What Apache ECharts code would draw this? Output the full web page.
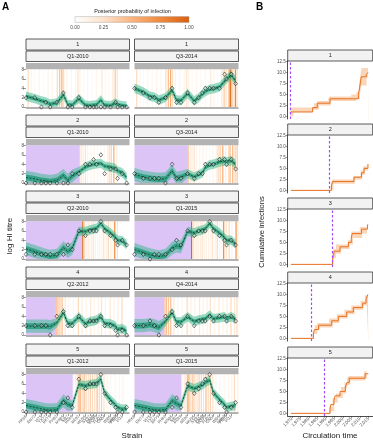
<!DOCTYPE html>
<html>
<head>
<meta charset="utf-8">
<script src="https://cdn.jsdelivr.net/npm/echarts@6/dist/echarts.min.js"></script>
<style>
  html, body { margin: 0; padding: 0; background: #fff; }
  #fig { width: 373px; height: 440px; }
</style>
</head>
<body>
<div id="fig"></div>
<script>
// ---------- data ----------
// strains, placed at their circulation year
var strainYears = [1968, 1972, 1975, 1977, 1979, 1982, 1985, 1987, 1989, 1992, 1995, 1997, 1998.7, 2000, 2002, 2003.7, 2006.4, 2008.7, 2009.6, 2011.7, 2013.7];
var strainNames = ['HK68', 'EN72', 'VI75', 'TX77', 'BK79', 'PH82', 'MS85', 'SI87', 'BE89', 'BE92', 'WU95', 'SY97', 'PA99', 'MO99', 'FU02', 'CA04', 'WI05', 'BR07', 'PE09', 'VI11', 'TX12'];

var yTicksA = [0, 2, 4, 6, 8];
var yTicksB = [0, 2.5, 5, 7.5, 10, 12.5];
var yearTicksB = [1970, 1975, 1980, 1985, 1990, 1995, 2000, 2005, 2010, 2015];
var legendTicks = [0, 0.25, 0.5, 0.75, 1];

var sampleLabels = ['Q1-2010', 'Q3-2014', 'Q1-2010', 'Q3-2014', 'Q2-2010', 'Q1-2015', 'Q2-2012', 'Q4-2014', 'Q1-2012', 'Q1-2015'];
var birthYears = [1969.0, 1992.3, 1993.7, 1981.6, 1989.3];

// observed titres
var titre_1a = [2,2,0,1,0,1,3,0,0,2,0,0,0,0,0,0,0,1,0,0,0];
var titre_1b = [4,3,2,2,1,2,4,1,1,3,1,2,3,4,4,4,4,7,6,7,5];
var titre_2a = [0,0,0,0,0,0,0,0,2,2,4,4,5,4,6,2,3,3,1,2,0];
var titre_2b = [2,1,1,1,1,0,4,1,1,2,1,2,2,4,4,4,5,5,4,5,3];
var titre_3a = [1,1,1,1,1,1,1,3,2,6,5,6,6,6,8,6,5,4,3,4,3];
var titre_3b = [1,1,0,1,1,1,2,4,3,6,5,6,6,6,8,6,5,4,3,4,3];
var titre_4a = [2,2,2,2,0,4,5,2,2,4,2,3,3,3,4,2,2,1,0,1,0];
var titre_4b = [2,2,3,2,0,4,5,2,2,4,2,3,3,3,4,3,4,4,3,4,3];
var titre_5a = [0,0,0,0,0,0,2,3,1,7,5,6,6,6,8,4,2,1,0,0,1];
var titre_5b = [0,0,0,0,0,0,1,3,1,6,4,5,6,7,8,4,2,1,0,1,2];

// model fit: median, 95% and 50% bands
var mean_1a = [2.3,1.8,1.3,1.1,0.6,0.9,2.6,0.5,0.4,1.8,0.4,0.3,0.4,0.5,1.5,0.4,0.3,0.9,0.5,0.3,0.2];
var hi95_1a = [3.3,2.8,2.3,2.1,1.6,1.9,3.6,1.5,1.4,2.8,1.4,1.3,1.4,1.5,2.5,1.4,1.3,1.9,1.5,1.3,1.2];
var lo95_1a = [1.3,0.8,0.3,0.1,-0.2,-0.1,1.6,-0.2,-0.2,0.8,-0.2,-0.2,-0.2,-0.2,0.5,-0.2,-0.2,-0.1,-0.2,-0.2,-0.2];
var hi50_1a = [2.7,2.2,1.7,1.5,1.0,1.3,3.0,0.9,0.8,2.2,0.8,0.7,0.8,0.9,1.9,0.8,0.7,1.3,0.9,0.7,0.6];
var lo50_1a = [1.9,1.4,0.9,0.7,0.2,0.5,2.2,0.1,0.0,1.4,0.0,-0.1,0.0,0.1,1.1,0.0,-0.1,0.5,0.1,-0.1,-0.2];

var mean_1b = [4.0,3.2,2.3,2.1,1.5,2.0,3.6,1.5,1.4,2.9,1.3,2.0,2.8,3.3,3.8,3.9,4.3,5.5,6.0,6.8,5.6];
var hi95_1b = [5.0,4.2,3.3,3.1,2.5,3.0,4.6,2.5,2.4,3.9,2.3,3.0,3.8,4.3,4.8,4.9,5.3,6.5,7.0,7.8,6.6];
var lo95_1b = [3.0,2.2,1.3,1.1,0.5,1.0,2.6,0.5,0.4,1.9,0.3,1.0,1.8,2.3,2.8,2.9,3.3,4.5,5.0,5.8,4.6];
var hi50_1b = [4.4,3.6,2.7,2.5,1.9,2.4,4.0,1.9,1.8,3.3,1.7,2.4,3.2,3.7,4.2,4.3,4.7,5.9,6.4,7.2,6.0];
var lo50_1b = [3.6,2.8,1.9,1.7,1.1,1.6,3.2,1.1,1.0,2.5,0.9,1.6,2.4,2.9,3.4,3.5,3.9,5.1,5.6,6.4,5.2];

var mean_2a = [1.2,0.9,0.6,0.5,0.3,0.6,1.6,0.6,1.5,2.4,3.4,3.8,4.0,4.1,4.2,3.6,3.4,3.1,2.6,2.2,1.2];
var hi95_2a = [2.6,2.3,2.0,1.9,1.7,2.0,3.0,2.0,2.9,3.4,4.4,4.8,5.0,5.1,5.2,4.6,4.4,4.1,3.6,3.2,2.2];
var lo95_2a = [-0.2,-0.2,-0.2,-0.2,-0.2,-0.2,0.2,-0.2,0.1,1.4,2.4,2.8,3.0,3.1,3.2,2.6,2.4,2.1,1.6,1.2,0.2];
var hi50_2a = [1.8,1.5,1.2,1.1,0.9,1.2,2.2,1.2,2.1,2.8,3.8,4.2,4.4,4.5,4.6,4.0,3.8,3.5,3.0,2.6,1.6];
var lo50_2a = [0.6,0.3,0.0,-0.1,-0.2,0.0,1.0,0.0,0.9,2.0,3.0,3.4,3.6,3.7,3.8,3.2,3.0,2.7,2.2,1.8,0.8];

var mean_2b = [1.8,1.3,1.0,0.9,0.8,0.9,2.6,1.0,1.2,2.0,1.3,1.8,2.2,3.3,3.9,4.0,4.5,4.7,4.5,4.8,4.0];
var hi95_2b = [3.2,2.7,2.4,2.3,2.2,2.3,4.0,2.4,2.6,3.0,2.3,2.8,3.2,4.3,4.9,5.0,5.5,5.7,5.5,5.8,5.0];
var lo95_2b = [0.4,-0.1,-0.2,-0.2,-0.2,-0.2,1.2,-0.2,-0.2,1.0,0.3,0.8,1.2,2.3,2.9,3.0,3.5,3.7,3.5,3.8,3.0];
var hi50_2b = [2.4,1.9,1.6,1.5,1.4,1.5,3.2,1.6,1.8,2.4,1.7,2.2,2.6,3.7,4.3,4.4,4.9,5.1,4.9,5.2,4.4];
var lo50_2b = [1.2,0.7,0.4,0.3,0.2,0.3,2.0,0.4,0.6,1.6,0.9,1.4,1.8,2.9,3.5,3.6,4.1,4.3,4.1,4.4,3.6];

var mean_3a = [2.2,1.6,1.1,0.8,0.6,0.8,2.4,1.6,2.3,5.9,5.9,6.2,6.4,6.6,7.6,6.5,5.6,4.6,4.0,3.9,3.1];
var hi95_3a = [3.6,3.0,2.5,2.2,2.0,2.2,3.8,3.0,3.7,6.9,6.9,7.2,7.4,7.6,8.6,7.5,6.6,5.6,5.0,4.9,4.1];
var lo95_3a = [0.8,0.2,-0.2,-0.2,-0.2,-0.2,1.0,0.2,0.9,4.9,4.9,5.2,5.4,5.6,6.6,5.5,4.6,3.6,3.0,2.9,2.1];
var hi50_3a = [2.8,2.2,1.7,1.4,1.2,1.4,3.0,2.2,2.9,6.3,6.3,6.6,6.8,7.0,8.0,6.9,6.0,5.0,4.4,4.3,3.5];
var lo50_3a = [1.6,1.0,0.5,0.2,0.0,0.2,1.8,1.0,1.7,5.5,5.5,5.8,6.0,6.2,7.2,6.1,5.2,4.2,3.6,3.5,2.7];

var mean_3b = [2.0,1.4,0.9,0.7,0.5,0.8,2.3,2.8,2.6,5.9,5.6,6.0,6.2,6.5,7.6,6.5,5.6,4.6,4.0,4.0,3.2];
var hi95_3b = [3.4,2.8,2.3,2.1,1.9,2.2,3.7,4.2,4.0,6.9,6.6,7.0,7.2,7.5,8.6,7.5,6.6,5.6,5.0,5.0,4.2];
var lo95_3b = [0.6,0.0,-0.2,-0.2,-0.2,-0.2,0.9,1.4,1.2,4.9,4.6,5.0,5.2,5.5,6.6,5.5,4.6,3.6,3.0,3.0,2.2];
var hi50_3b = [2.6,2.0,1.5,1.3,1.1,1.4,2.9,3.4,3.2,6.3,6.0,6.4,6.6,6.9,8.0,6.9,6.0,5.0,4.4,4.4,3.6];
var lo50_3b = [1.4,0.8,0.3,0.1,-0.1,0.2,1.7,2.2,2.0,5.5,5.2,5.6,5.8,6.1,7.2,6.1,5.2,4.2,3.6,3.6,2.8];

var mean_4a = [1.9,1.9,1.9,1.9,1.8,2.6,4.8,2.5,2.5,3.9,2.4,2.9,3.0,3.2,3.9,2.5,2.4,1.9,1.2,1.4,0.8];
var hi95_4a = [3.3,3.3,3.3,3.3,3.2,3.6,5.8,3.5,3.5,4.9,3.4,3.9,4.0,4.2,4.9,3.5,3.4,2.9,2.2,2.4,1.8];
var lo95_4a = [0.5,0.5,0.5,0.5,0.4,1.6,3.8,1.5,1.5,2.9,1.4,1.9,2.0,2.2,2.9,1.5,1.4,0.9,0.2,0.4,-0.2];
var hi50_4a = [2.5,2.5,2.5,2.5,2.4,3.0,5.2,2.9,2.9,4.3,2.8,3.3,3.4,3.6,4.3,2.9,2.8,2.3,1.6,1.8,1.2];
var lo50_4a = [1.3,1.3,1.3,1.3,1.2,2.2,4.4,2.1,2.1,3.5,2.0,2.5,2.6,2.8,3.5,2.1,2.0,1.5,0.8,1.0,0.4];

var mean_4b = [2.0,2.0,2.2,2.0,1.6,2.9,4.8,2.8,2.8,3.9,2.9,3.2,3.4,3.5,4.3,3.5,3.7,3.9,3.5,3.9,3.4];
var hi95_4b = [3.4,3.4,3.6,3.4,3.0,3.9,5.8,3.8,3.8,4.9,3.9,4.2,4.4,4.5,5.3,4.5,4.7,4.9,4.5,4.9,4.4];
var lo95_4b = [0.6,0.6,0.8,0.6,0.2,1.9,3.8,1.8,1.8,2.9,1.9,2.2,2.4,2.5,3.3,2.5,2.7,2.9,2.5,2.9,2.4];
var hi50_4b = [2.6,2.6,2.8,2.6,2.2,3.3,5.2,3.2,3.2,4.3,3.3,3.6,3.8,3.9,4.7,3.9,4.1,4.3,3.9,4.3,3.8];
var lo50_4b = [1.4,1.4,1.6,1.4,1.0,2.5,4.4,2.4,2.4,3.5,2.5,2.8,3.0,3.1,3.9,3.1,3.3,3.5,3.1,3.5,3.0];

var mean_5a = [1.4,1.0,0.7,0.5,0.4,0.5,2.4,1.6,1.4,5.9,5.6,5.9,6.0,6.1,7.0,4.1,2.6,1.5,1.0,0.6,0.7];
var hi95_5a = [2.8,2.4,2.1,1.9,1.8,1.9,3.8,3.0,2.4,6.9,6.6,6.9,7.0,7.1,8.0,5.1,3.6,2.5,2.0,1.6,1.7];
var lo95_5a = [0.0,-0.2,-0.2,-0.2,-0.2,-0.2,1.0,0.2,0.4,4.9,4.6,4.9,5.0,5.1,6.0,3.1,1.6,0.5,0.0,-0.2,-0.2];
var hi50_5a = [2.0,1.6,1.3,1.1,1.0,1.1,3.0,2.2,1.8,6.3,6.0,6.3,6.4,6.5,7.4,4.5,3.0,1.9,1.4,1.0,1.1];
var lo50_5a = [0.8,0.4,0.1,-0.1,-0.2,-0.1,1.8,1.0,1.0,5.5,5.2,5.5,5.6,5.7,6.6,3.7,2.2,1.1,0.6,0.2,0.3];

var mean_5b = [1.4,1.0,0.7,0.5,0.4,0.5,2.4,1.8,1.4,5.6,5.0,5.4,5.8,6.3,6.8,4.1,2.7,1.6,1.0,1.2,1.4];
var hi95_5b = [2.8,2.4,2.1,1.9,1.8,1.9,3.8,3.2,2.4,6.6,6.0,6.4,6.8,7.3,7.8,5.1,3.7,2.6,2.0,2.2,2.4];
var lo95_5b = [0.0,-0.2,-0.2,-0.2,-0.2,-0.2,1.0,0.4,0.4,4.6,4.0,4.4,4.8,5.3,5.8,3.1,1.7,0.6,0.0,0.2,0.4];
var hi50_5b = [2.0,1.6,1.3,1.1,1.0,1.1,3.0,2.4,1.8,6.0,5.4,5.8,6.2,6.7,7.2,4.5,3.1,2.0,1.4,1.6,1.8];
var lo50_5b = [0.8,0.4,0.1,-0.1,-0.2,-0.1,1.8,1.2,1.0,5.2,4.6,5.0,5.4,5.9,6.4,3.7,2.3,1.2,0.6,0.8,1.0];

// posterior probability of infection, [time, probability], one list per individual
var infect_1 = [[1968.1,1.0],[1969,0.3],[1970.5,0.08],[1972,0.06],[1974,0.08],[1976,0.06],[1978,0.1],[1980,0.08],[1982.2,0.3],[1983.3,0.45],[1984.3,0.55],[1985.1,0.3],[1986.5,0.1],[1988.5,0.08],[1990.5,0.1],[1991.6,0.25],[1992.5,0.12],[1994,0.06],[1996,0.08],[1998,0.06],[2000,0.08],[2002.5,0.2],[2004,0.08],[2005.5,0.06],[2007.5,0.2],[2008.5,0.4],[2009.4,0.25],[2010.5,0.35],[2011.1,0.7],[2011.5,0.95],[2012.1,0.4],[2012.8,0.2],[2013.6,0.75],[2014.3,0.3]];
var infect_2 = [[1992.4,0.35],[1993.2,0.15],[1994,0.15],[1995,0.25],[1996,0.1],[1997.5,0.08],[1999,0.1],[2000.5,0.08],[2002,0.06],[2003.5,0.08],[2005,0.12],[2005.8,0.3],[2006.7,0.35],[2007.9,0.55],[2009.2,0.15],[2010.6,0.3],[2011.2,0.45],[2012.4,0.5],[2013.5,0.35],[2014.4,0.4]];
var infect_3 = [[1993.8,0.95],[1994.5,0.3],[1995.3,0.15],[1996.2,0.2],[1997,0.12],[1997.8,0.15],[1998.6,0.25],[1999.5,0.12],[2000.5,0.12],[2001.5,0.12],[2002.5,0.1],[2003.3,0.25],[2004.5,0.12],[2005.4,0.3],[2006.5,0.12],[2007.5,0.1],[2008.3,0.75],[2009.5,0.25],[2010.8,0.3],[2012,0.12],[2013.9,0.7],[2014.7,0.2]];
var infect_4 = [[1981.8,0.4],[1982.5,0.45],[1983.4,0.4],[1984.4,0.45],[1985.8,0.2],[1987.5,0.08],[1989.5,0.08],[1991.8,0.3],[1993.5,0.15],[1995.3,0.1],[1997.4,0.2],[1999,0.1],[2000.8,0.12],[2002.3,0.25],[2004,0.1],[2006.2,0.2],[2008,0.1],[2009.8,0.15],[2011.6,0.3],[2013.2,0.2],[2014.3,0.3]];
var infect_5 = [[1989.5,0.1],[1990.5,0.15],[1991.3,0.25],[1992,0.45],[1992.6,0.55],[1993.5,0.3],[1994.4,0.45],[1995.3,0.3],[1996.3,0.25],[1997.2,0.35],[1998.2,0.3],[1999.2,0.25],[2000.3,0.45],[2001.3,0.3],[2002.3,0.35],[2003.4,0.25],[2004.8,0.1],[2006.5,0.08],[2008.5,0.08],[2010.5,0.08],[2012,0.1],[2013.2,0.3],[2014.6,0.12]];

// cumulative infections (median and 95% band), [time, count]
var cum_1 = [[1969.3,1],[1982.3,2],[1985,3],[1992.5,4],[2009.2,5],[2010.1,7],[2010.9,9],[2013.8,9.5],[2014.8,10],[2015,10]];
var cumLo_1 = [[1969.3,0],[1971,1],[1982.5,1.5],[1986,2.5],[1993,3.5],[2008,4],[2010,5],[2011,7],[2014,8.5],[2014.8,9],[2015,9]];
var cumHi_1 = [[1969.3,2],[1981,2],[1983,3],[1985,3.5],[1991.5,4],[1992,4.5],[2005,5],[2008,5.5],[2009.5,7],[2010.2,9],[2011,11],[2014.8,12],[2015,12]];
var cum_2 = [[1969.5,0],[1993.3,1],[1994,2],[2006.6,3],[2011,4],[2012.5,5],[2014.8,6],[2015,6]];
var cumLo_2 = [[1969.5,0],[1994.5,1.5],[2007,2.5],[2011.5,3.5],[2013,4.5],[2014.8,5.5],[2015,5.5]];
var cumHi_2 = [[1969.5,0],[1993,1],[1993.6,2.5],[2006,3.2],[2010.5,4.5],[2012,5.5],[2014.5,6.5],[2015,6.5]];
var cum_3 = [[1969.5,0],[1994,1],[1994.5,2],[1995,3],[1998.4,4],[2003.3,5],[2005,6],[2005.5,7],[2011,8],[2014.5,9],[2015,9]];
var cumLo_3 = [[1969.5,0],[1994.5,1.5],[1996,2.5],[1999,3.5],[2004,4.5],[2006,6],[2011.5,7],[2014.5,8],[2015,8]];
var cumHi_3 = [[1969.5,0],[1993.8,2],[1994.5,3.5],[1996,4.5],[2003,5.5],[2005,7.5],[2010,8.5],[2014,9.5],[2015,9.5]];
var cum_4 = [[1969.5,0],[1982.7,1],[1983.3,2],[1985.8,3],[1993.5,4],[1997.4,5],[2002.3,6],[2006.2,7],[2011.7,8],[2013.7,9],[2014.8,10],[2015,10]];
var cumLo_4 = [[1969.5,0],[1983,1],[1985,2],[1986.5,2.5],[1994,3.5],[1998,4.5],[2003,5.5],[2007,6.5],[2012,7.5],[2014,8.5],[2015,8.5]];
var cumHi_4 = [[1969.5,0],[1982.3,1.5],[1983.5,3],[1985,3.5],[1992,4.5],[1996.5,5.5],[2001,6.5],[2005,7.5],[2010.5,8.5],[2013,9.8],[2014.8,11],[2015,11]];
var cum_5 = [[1969.5,0],[1992.5,1],[1993,2],[1994.8,3],[1995.5,4],[1998.4,5],[2001.5,6],[2002.5,7],[2003.8,8],[2013.1,9],[2015,9]];
var cumLo_5 = [[1969.5,0],[1993,0.5],[1995,2.5],[1997,3.5],[2000,4.5],[2002,5.5],[2003,6.5],[2004.5,7.5],[2013.5,8],[2015,8]];
var cumHi_5 = [[1969.5,0],[1992,1.5],[1994,3.5],[1996,4.5],[1999,6],[2001,7],[2002.5,8],[2003.5,8.5],[2012.5,9.5],[2014,10],[2015,10]];

// ---------- layout & style ----------
var FONT = 'Liberation Sans, Arial, sans-serif';
var colX = [26, 134.5];
var colW = [103.5, 104];
var rowT = [39, 115, 191, 267, 344];
var bX = 287.7, bW = 85;
var bT = [50, 124, 198, 272, 347];
var probColors = ['#ffffff', '#fde3cb', '#fbb47f', '#f08a3e', '#d9600f'];

var panelsA = [
  { row: 0, col: 0, titre: titre_1a, mean: mean_1a, lo95: lo95_1a, hi95: hi95_1a, lo50: lo50_1a, hi50: hi50_1a },
  { row: 0, col: 1, titre: titre_1b, mean: mean_1b, lo95: lo95_1b, hi95: hi95_1b, lo50: lo50_1b, hi50: hi50_1b },
  { row: 1, col: 0, titre: titre_2a, mean: mean_2a, lo95: lo95_2a, hi95: hi95_2a, lo50: lo50_2a, hi50: hi50_2a },
  { row: 1, col: 1, titre: titre_2b, mean: mean_2b, lo95: lo95_2b, hi95: hi95_2b, lo50: lo50_2b, hi50: hi50_2b },
  { row: 2, col: 0, titre: titre_3a, mean: mean_3a, lo95: lo95_3a, hi95: hi95_3a, lo50: lo50_3a, hi50: hi50_3a },
  { row: 2, col: 1, titre: titre_3b, mean: mean_3b, lo95: lo95_3b, hi95: hi95_3b, lo50: lo50_3b, hi50: hi50_3b },
  { row: 3, col: 0, titre: titre_4a, mean: mean_4a, lo95: lo95_4a, hi95: hi95_4a, lo50: lo50_4a, hi50: hi50_4a },
  { row: 3, col: 1, titre: titre_4b, mean: mean_4b, lo95: lo95_4b, hi95: hi95_4b, lo50: lo50_4b, hi50: hi50_4b },
  { row: 4, col: 0, titre: titre_5a, mean: mean_5a, lo95: lo95_5a, hi95: hi95_5a, lo50: lo50_5a, hi50: hi50_5a },
  { row: 4, col: 1, titre: titre_5b, mean: mean_5b, lo95: lo95_5b, hi95: hi95_5b, lo50: lo50_5b, hi50: hi50_5b }
];
var infections = [infect_1, infect_2, infect_3, infect_4, infect_5];
var cumMed = [cum_1, cum_2, cum_3, cum_4, cum_5];
var cumLo = [cumLo_1, cumLo_2, cumLo_3, cumLo_4, cumLo_5];
var cumHi = [cumHi_1, cumHi_2, cumHi_3, cumHi_4, cumHi_5];

// end of the sampling quarter, e.g. 'Q1-2010' -> 2010.25
function sampleTime(lbl) {
  return +lbl.slice(3) + (+lbl.charAt(1)) / 4;
}

function stripBox(x, y, w, h, label) {
  return {
    type: 'group', children: [
      { type: 'rect', shape: { x: x, y: y, width: w, height: h }, style: { fill: '#f2f2f2', stroke: '#333', lineWidth: 0.8 } },
      { type: 'text', x: x + w / 2, y: y + h / 2 + 0.3, style: { text: label, fill: '#1a1a1a', font: '5.5px ' + FONT, align: 'center', verticalAlign: 'middle', textAlign: 'center', textVerticalAlign: 'middle' } }
    ]
  };
}

function txt(x, y, s, size, opts) {
  var o = { type: 'text', x: x, y: y, style: { text: s, fill: '#1a1a1a', font: size + 'px ' + FONT, align: 'center', verticalAlign: 'middle', textAlign: 'center', textVerticalAlign: 'middle' } };
  if (opts) { for (var k in opts) { if (k === 'style') { for (var j in opts.style) o.style[j] = opts.style[j]; } else o[k] = opts[k]; } }
  return o;
}

function pairs(ys) {
  return strainYears.map(function (x, j) { return [x, ys[j]]; });
}

// a ribbon between lo and hi, drawn as one polygon through the axis scales
function bandSeries(i, lo, hi, color) {
  return {
    type: 'custom', xAxisIndex: i, yAxisIndex: i, silent: true, clip: true, z: 2,
    data: [[strainYears[0], lo[0]]], encode: { x: 0, y: 1 },
    renderItem: function (params, api) {
      var pts = [], j;
      for (j = 0; j < strainYears.length; j++) pts.push(api.coord([strainYears[j], hi[j]]));
      for (j = strainYears.length - 1; j >= 0; j--) pts.push(api.coord([strainYears[j], lo[j]]));
      return { type: 'polygon', shape: { points: pts }, style: { fill: color } };
    }
  };
}

var grids = [], xAxes = [], yAxes = [], series = [], graphics = [], orangeIdx = [];

// ---------- panel A ----------
panelsA.forEach(function (p, i) {
  var top = rowT[p.row], c = p.col, bottomRow = p.row === 4;
  var birth = birthYears[p.row];
  var cutoff = sampleTime(sampleLabels[i]);

  grids.push({ left: colX[c], top: top + 30.3, width: colW[c], height: 39.7, outerBoundsMode: 'none' });
  xAxes.push({
    gridIndex: i, type: 'value', min: 1968, max: 2015,
    axisLine: { show: false, onZero: false }, splitLine: { show: false },
    axisTick: { show: bottomRow, customValues: strainYears, length: 2, lineStyle: { color: '#333', width: 0.5 } },
    axisLabel: {
      show: bottomRow, customValues: strainYears, rotate: 45, fontSize: 4, color: '#4d4d4d', margin: 2, fontFamily: FONT,
      formatter: function (v) { var k = strainYears.indexOf(v); return k < 0 ? '' : strainNames[k]; }
    }
  });
  yAxes.push({
    gridIndex: i, type: 'value', min: -0.42, max: 8.05,
    axisLine: { show: false, onZero: false }, splitLine: { show: false },
    axisTick: { show: c === 0, customValues: yTicksA, length: 2.5, lineStyle: { color: '#333', width: 0.5 } },
    axisLabel: { show: c === 0, customValues: yTicksA, fontSize: 4.5, color: '#4d4d4d', margin: 2, fontFamily: FONT }
  });

  // infection probability stripes (after birth, up to the sample)
  orangeIdx.push(series.length);
  series.push({
    type: 'custom', xAxisIndex: i, yAxisIndex: i, silent: true, z: 1,
    data: infections[p.row].filter(function (d) { return d[0] >= birth && d[0] <= cutoff; }),
    encode: { x: 0, y: 1 },
    renderItem: function (params, api) {
      var cs = params.coordSys;
      var px = api.coord([api.value(0), 0])[0];
      return { type: 'rect', shape: { x: px - 0.6, y: cs.y, width: 1.2, height: cs.height }, style: { fill: api.visual('color') } };
    },
    markArea: birth > 1970 ? {
      silent: true, itemStyle: { color: '#ddc4f6' },
      data: [[{ xAxis: 1968 }, { xAxis: birth }]]
    } : undefined
  });

  series.push(bandSeries(i, p.lo95, p.hi95, 'rgba(51,184,140,0.5)'));
  series.push(bandSeries(i, p.lo50, p.hi50, 'rgba(16,150,108,0.7)'));
  series.push({
    type: 'line', xAxisIndex: i, yAxisIndex: i, silent: true, symbol: 'none', z: 3,
    lineStyle: { color: '#1a1a1a', width: 0.7, type: [2, 1.5] }, data: pairs(p.mean)
  });
  series.push({
    type: 'scatter', xAxisIndex: i, yAxisIndex: i, silent: true, z: 20,
    symbol: 'diamond', symbolSize: [3.6, 4.4],
    itemStyle: { color: 'rgba(255,255,255,0.4)', borderColor: '#111', borderWidth: 0.7 },
    data: pairs(p.titre)
  });

  // facet strips and grey bands
  graphics.push(stripBox(colX[c], top, colW[c], 11, String(p.row + 1)));
  graphics.push(stripBox(colX[c], top + 12, colW[c], 10.5, sampleLabels[i]));
  graphics.push({ type: 'rect', z: 10, shape: { x: colX[c], y: top + 24, width: colW[c], height: 6.3 }, style: { fill: '#b3b3b3' } });
  graphics.push({ type: 'rect', z: 10, shape: { x: colX[c], y: top + 68, width: colW[c], height: 2 }, style: { fill: '#b3b3b3' } });
});

// ---------- panel B ----------
bT.forEach(function (t, k) {
  var gi = panelsA.length + k, last = k === bT.length - 1;
  grids.push({ left: bX, top: t + 11, width: bW, height: 58, outerBoundsMode: 'none' });
  xAxes.push({
    gridIndex: gi, type: 'value', min: 1967.6, max: 2017.6, splitLine: { show: false },
    axisLine: { show: last, onZero: false, lineStyle: { color: '#000', width: 0.7 } },
    axisTick: { show: last, customValues: yearTicksB, length: 2, lineStyle: { color: '#333', width: 0.5 } },
    axisLabel: { show: last, customValues: yearTicksB, rotate: 45, fontSize: 4.5, color: '#4d4d4d', margin: 2, fontFamily: FONT }
  });
  yAxes.push({
    gridIndex: gi, type: 'value', min: -0.6, max: 12.6, splitLine: { show: false },
    axisLine: { show: true, onZero: false, lineStyle: { color: '#000', width: 0.7 } },
    axisTick: { show: true, customValues: yTicksB, length: 2, lineStyle: { color: '#333', width: 0.5 } },
    axisLabel: { show: true, customValues: yTicksB, fontSize: 4.5, color: '#4d4d4d', margin: 2, fontFamily: FONT, formatter: function (v) { return v.toFixed(1); } }
  });
  series.push({
    type: 'line', xAxisIndex: gi, yAxisIndex: gi, silent: true, symbol: 'none', step: 'end',
    lineStyle: { width: 0 }, areaStyle: { color: '#f9d6b9', origin: 'start', opacity: 1 }, data: cumHi[k]
  });
  series.push({
    type: 'line', xAxisIndex: gi, yAxisIndex: gi, silent: true, symbol: 'none', step: 'end',
    lineStyle: { width: 0 }, areaStyle: { color: '#ffffff', origin: 'start', opacity: 1 }, data: cumLo[k]
  });
  series.push({
    type: 'line', xAxisIndex: gi, yAxisIndex: gi, silent: true, symbol: 'none', step: 'end',
    lineStyle: { color: '#e8701f', width: 1 }, data: cumMed[k],
    markLine: {
      silent: true, symbol: 'none', label: { show: false },
      lineStyle: { color: '#a54cf5', type: [2.5, 2], width: 1.2 },
      data: [{ xAxis: birthYears[k] }]
    }
  });
  graphics.push(stripBox(bX, t, bW, 11, String(k + 1)));
});

// ---------- legend, labels ----------
var legX = 75, legW = 114;
graphics.push(txt(2, 7, 'A', 10, { style: { align: 'left', textAlign: 'left', font: 'bold 10px ' + FONT, fill: '#000' } }));
graphics.push(txt(256, 7, 'B', 10, { style: { align: 'left', textAlign: 'left', font: 'bold 10px ' + FONT, fill: '#000' } }));
graphics.push(txt(132.5, 11, 'Posterior probability of infection', 5.5));
graphics.push({
  type: 'rect', shape: { x: legX, y: 16.6, width: legW, height: 5.8 },
  style: {
    fill: new echarts.graphic.LinearGradient(0, 0, 1, 0, probColors.map(function (col, j) { return { offset: j / (probColors.length - 1), color: col }; })),
    stroke: '#9a9a9a', lineWidth: 0.4
  }
});
legendTicks.forEach(function (v) {
  graphics.push(txt(legX + v * legW, 27.5, v.toFixed(2), 4.8, { style: { fill: '#4d4d4d' } }));
});
graphics.push(txt(10, 236, 'log HI titre', 8, { rotation: Math.PI / 2 }));
graphics.push(txt(132, 436, 'Strain', 8));
graphics.push(txt(262, 232, 'Cumulative infections', 7.5, { rotation: Math.PI / 2 }));
graphics.push(txt(330, 436, 'Circulation time', 8));

var chart = echarts.init(document.getElementById('fig'));
chart.setOption({
  animation: false,
  backgroundColor: '#fff',
  grid: grids,
  xAxis: xAxes,
  yAxis: yAxes,
  visualMap: [{
    type: 'continuous', show: false, min: 0, max: 1, dimension: 1,
    seriesIndex: orangeIdx, inRange: { color: probColors }
  }],
  graphic: { elements: graphics },
  series: series
});
</script>
</body>
</html>
